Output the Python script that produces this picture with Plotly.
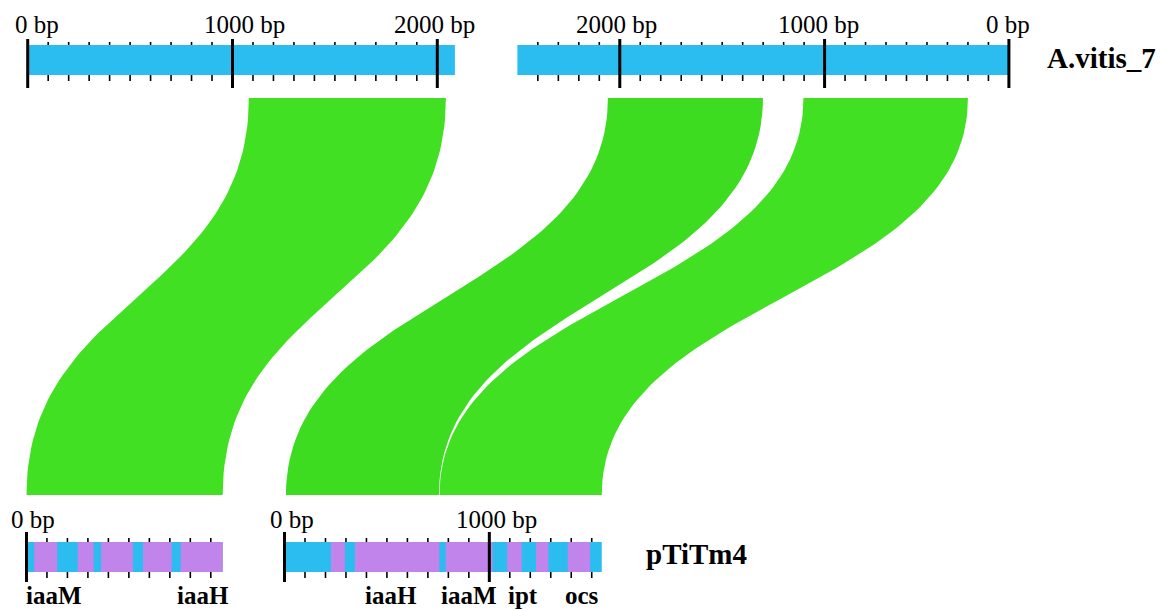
import numpy as np
import plotly.graph_objects as go

# ---------------- data (bp) ----------------
# A.vitis_7 is shown as two fragments: forward (left) and reversed (right)
top_left_len = 2086
top_right_len = 2400
# pTiTm4 fragments
bottom_left_len = 958
bottom_right_len = 1549

# gene blocks on pTiTm4 (start, end in bp)
bl_gene_start = [38, 250, 364, 569, 753]
bl_gene_end = [150, 328, 520, 709, 958]
br_gene_start = [227, 344, 787, 1087, 1228, 1383]
br_gene_end = [295, 756, 1016, 1158, 1288, 1492]

# gene names under pTiTm4
bl_gene_names = ["iaaM", "iaaH"]
bl_gene_name_bp = [134, 862]
br_gene_names = ["iaaH", "iaaM", "ipt", "ocs"]
br_gene_name_bp = [520, 903, 1164, 1453]

# scale labels
tl_major_bp = [0, 1000, 2000]
tl_major_text = ["0 bp", "1000 bp", "2000 bp"]
tr_major_bp = [0, 900, 1900]
tr_major_text = ["0 bp", "1000 bp", "2000 bp"]
bl_major_bp = [0]
bl_major_text = ["0 bp"]
br_major_bp = [0, 1000]
br_major_text = ["0 bp", "1000 bp"]

# syntenic blocks: (top fragment, top start, top end) -> (bottom fragment, start, end)
link_top_frag = ["TL", "TR", "TR"]
link_top_start = [1080, 1958, 1003]
link_top_end = [2042, 1201, 200]
link_bot_frag = ["BL", "BR", "BR"]
link_bot_start = [0, 7, 757]
link_bot_end = [958, 754, 1549]

# ---------------- styling / layout ----------------
W, H = 1164, 610
PX_PER_BP = 0.2048
X_MIN = -27.7 / PX_PER_BP
X_MAX = X_MIN + W / PX_PER_BP

BLUE = "#2BBCF0"
PURPLE = "#C084EA"
GREEN = ["#42E022", "#3DDC21", "#42E022"]
SERIF = "Liberation Serif, Times New Roman, serif"

TOP_ROW = dict(y0=45, y1=75, maj=(39, 88), minor_top=(42, 45), minor_bot=(75, 81))
BOT_ROW = dict(y0=542, y1=572, maj=(532, 582), minor_top=(538, 542), minor_bot=(572, 578))

frags = {
    "TL": dict(origin=0, sign=1, length=top_left_len, row=TOP_ROW,
               major=tl_major_bp, text=tl_major_text, nudge=[44, 61, -16]),
    "TR": dict(origin=4791, sign=-1, length=top_right_len, row=TOP_ROW,
               major=tr_major_bp, text=tr_major_text, nudge=[5, 31, 15]),
    "BL": dict(origin=-6, sign=1, length=bottom_left_len, row=BOT_ROW,
               major=bl_major_bp, text=bl_major_text, nudge=[34]),
    "BR": dict(origin=1254, sign=1, length=bottom_right_len, row=BOT_ROW,
               major=br_major_bp, text=br_major_text, nudge=[35, 37]),
}


def xpos(frag, bp):
    f = frags[frag]
    return f["origin"] + f["sign"] * bp


fig = go.Figure()
shapes = []
annotations = []

RIB_TOP, RIB_BOT = 98, 495


def bezier_edge(x_top, x_bot, n=80):
    t = np.linspace(0, 1, n)
    ym = (RIB_TOP + RIB_BOT) / 2
    b0, b1, b2, b3 = (1 - t) ** 3, 3 * (1 - t) ** 2 * t, 3 * (1 - t) * t ** 2, t ** 3
    xs = b0 * x_top + b1 * x_top + b2 * x_bot + b3 * x_bot
    ys = b0 * RIB_TOP + b1 * ym + b2 * ym + b3 * RIB_BOT
    return xs, ys


# syntenic ribbons
for i in range(len(link_top_frag)):
    xt0 = xpos(link_top_frag[i], link_top_start[i])
    xt1 = xpos(link_top_frag[i], link_top_end[i])
    xb0 = xpos(link_bot_frag[i], link_bot_start[i])
    xb1 = xpos(link_bot_frag[i], link_bot_end[i])
    lx, ly = bezier_edge(xt0, xb0)
    rx, ry = bezier_edge(xt1, xb1)
    xs = np.concatenate([lx, rx[::-1], [lx[0]]])
    ys = np.concatenate([ly, ry[::-1], [ly[0]]])
    fig.add_trace(go.Scatter(x=xs, y=ys, mode="lines", fill="toself",
                             fillcolor=GREEN[i], line=dict(width=0),
                             hoverinfo="skip", showlegend=False))

# fragment bars, gene blocks, ticks and scale labels
gene_sets = {"BL": (bl_gene_start, bl_gene_end), "BR": (br_gene_start, br_gene_end)}
for key, f in frags.items():
    r = f["row"]
    xa, xb = xpos(key, 0), xpos(key, f["length"])
    shapes.append(dict(type="rect", xref="x", yref="y", x0=min(xa, xb), x1=max(xa, xb),
                       y0=r["y0"], y1=r["y1"], fillcolor=BLUE, line=dict(width=0), layer="above"))
    if key in gene_sets:
        for s, e in zip(*gene_sets[key]):
            shapes.append(dict(type="rect", xref="x", yref="y", x0=xpos(key, s), x1=xpos(key, e),
                               y0=r["y0"], y1=r["y1"], fillcolor=PURPLE, line=dict(width=0),
                               layer="above"))
    # minor ticks every 100 bp
    for bp in range(100, f["length"], 100):
        if bp in f["major"]:
            continue
        x = xpos(key, bp)
        for seg in (r["minor_top"], r["minor_bot"]):
            shapes.append(dict(type="line", xref="x", yref="y", x0=x, x1=x, y0=seg[0], y1=seg[1],
                               line=dict(color="black", width=1.6), layer="above"))
    # major ticks and labels
    for bp, txt, nd in zip(f["major"], f["text"], f["nudge"]):
        x = xpos(key, bp)
        shapes.append(dict(type="line", xref="x", yref="y", x0=x, x1=x, y0=r["maj"][0], y1=r["maj"][1],
                           line=dict(color="black", width=3), layer="above"))
        ly = 24 if r is TOP_ROW else 519
        annotations.append(dict(x=xpos(key, bp + nd), y=ly, xref="x", yref="y", text=txt,
                                showarrow=False, xanchor="center", yanchor="middle",
                                font=dict(family=SERIF, size=25, color="black")))

# gene names
for names, pos, key in ((bl_gene_names, bl_gene_name_bp, "BL"), (br_gene_names, br_gene_name_bp, "BR")):
    for nm, bp in zip(names, pos):
        annotations.append(dict(x=xpos(key, bp), y=595, xref="x", yref="y", text="<b>%s</b>" % nm,
                                showarrow=False, xanchor="center", yanchor="middle",
                                font=dict(family=SERIF, size=25, color="black")))

# sequence names
annotations.append(dict(x=X_MIN + 1045 / PX_PER_BP, y=58, xref="x", yref="y", text="<b>A.vitis_7</b>",
                        showarrow=False, xanchor="left", yanchor="middle",
                        font=dict(family=SERIF, size=29, color="black")))
annotations.append(dict(x=X_MIN + 644 / PX_PER_BP, y=554, xref="x", yref="y", text="<b>pTiTm4</b>",
                        showarrow=False, xanchor="left", yanchor="middle",
                        font=dict(family=SERIF, size=29, color="black")))

fig.update_layout(
    width=W, height=H,
    margin=dict(l=0, r=0, t=0, b=0),
    paper_bgcolor="white", plot_bgcolor="white",
    shapes=shapes, annotations=annotations,
    xaxis=dict(range=[X_MIN, X_MAX], visible=False, fixedrange=True),
    yaxis=dict(range=[H, 0], visible=False, fixedrange=True),
    showlegend=False,
)

fig.write_html("out.html")
